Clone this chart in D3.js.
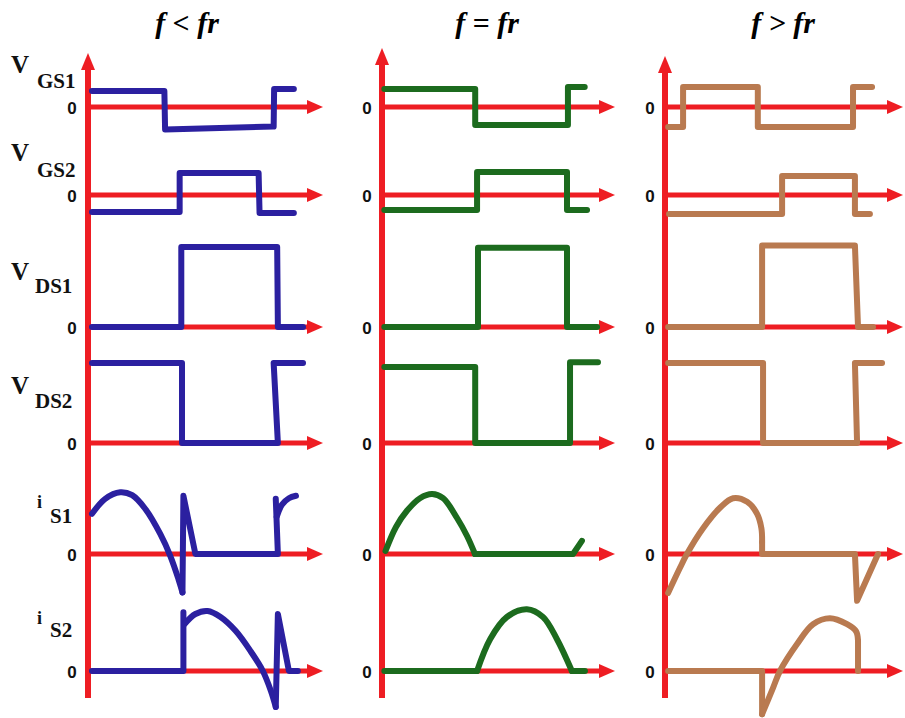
<!DOCTYPE html>
<html>
<head>
<meta charset="utf-8">
<script src="https://cdn.jsdelivr.net/npm/d3@7"></script>
<style>
  html, body { margin: 0; padding: 0; background: #ffffff; }
  svg { display: block; }
</style>
</head>
<body>
<svg id="chart" width="905" height="718"></svg>
<script>
// Column headings: switching frequency relative to resonance
const columnTitles = ["f < fr", "f = fr", "f >\u00a0fr"];

// Row labels: main symbol + subscript
const rowSymbols = ["V", "V", "V", "V", "i", "i"];
const rowSubscripts = ["GS1", "GS2", "DS1", "DS2", "S1", "S2"];
const zeroLabel = "0";

// Waveforms as [time, level] pairs, time in 0..100 of the plotted window,
// level normalised to each row's amplitude. Each array holds the three columns.
const vGS1 = [
  [[1.7, 0.8], [32.5, 0.8], [32.8, -1.12], [79, -0.98], [79.2, 0.9], [87.6, 0.9]],
  [[1, 0.9], [40, 0.9], [40, -0.9], [79.8, -0.9], [79.8, 1.0], [87, 1.0]],
  [[1.3, -1], [7.6, -1], [7.6, 1], [39, 1], [39, -1], [79, -1], [79, 1], [87, 1]]
];
const vGS2 = [
  [[1.7, -0.85], [39, -0.85], [39, 1.1], [72.6, 1.1], [73, -0.9], [87.6, -0.9]],
  [[1, -0.75], [40.8, -0.75], [40.8, 1.15], [79.4, 1.15], [79.4, -0.75], [88, -0.75]],
  [[1.7, -0.95], [49.2, -0.95], [49.2, 0.95], [79.8, 0.95], [79.8, -0.95], [86.1, -0.95]]
];
const vDS1 = [
  [[1.7, 0], [39.7, 0], [39.7, 1], [80.5, 1], [80.8, 0], [91.5, 0]],
  [[1, 0], [41.2, 0], [41.2, 0.99], [79.4, 0.99], [79.4, 0], [92.3, 0]],
  [[1.3, 0], [40.8, 0], [40.8, 1.02], [79.8, 1.02], [81.1, 0], [87.4, 0]]
];
const vDS2 = [
  [[1.7, 1], [40, 1], [40, 0], [80.8, 0], [79, 1], [91.5, 1]],
  [[1, 0.95], [40, 0.95], [40, 0], [80.7, 0], [80.7, 1.01], [92.7, 1.01]],
  [[1.3, 1], [41.2, 1], [41.2, 0], [80.7, 0], [79.8, 1], [91.2, 1]]
];
// Switch currents: each trace is a list of strokes; smooth strokes are flagged
const iS1 = [
  [{ smooth: true, pts: [[1.7, 0.67], [7.3, 0.92], [13.7, 1.03], [18.8, 0.98], [24.4, 0.75],
                         [30.8, 0.33], [35, -0.03], [38.5, -0.42], [40.2, -0.64]] },
   { smooth: false, pts: [[40.2, -0.64], [40.6, 0.97], [45.7, 0], [80.8, 0], [79.9, 0.92]] },
   { smooth: true, pts: [[80.3, 0.62], [82.5, 0.82], [85.5, 0.93], [88.5, 0.97]] }],
  [{ smooth: true, pts: [[1.5, 0.05], [6, 0.45], [10.7, 0.72], [16.3, 0.93], [21.5, 1.0],
                         [26.2, 0.93], [32.2, 0.6], [36.5, 0.3], [39.9, 0]] },
   { smooth: false, pts: [[39.9, 0], [82, 0], [85.8, 0.22]] }],
  [{ smooth: true, pts: [[1.3, -0.65], [6.3, -0.23], [9.2, 0], [16, 0.43], [23.1, 0.77],
                         [28.6, 0.93], [34.5, 0.87], [38.7, 0.67], [40.5, 0.43], [40.8, 0.2]] },
   { smooth: false, pts: [[40.8, 0.2], [40.8, 0], [79.8, 0], [80.7, -0.78], [89.5, 0]] }]
];
const iS2 = [
  [{ smooth: false, pts: [[1.7, 0], [40.6, 0], [40.6, 0.98]] },
   { smooth: true, pts: [[41, 0.78], [45.7, 0.95], [50.9, 1.0], [56.4, 0.9], [62.8, 0.67],
                         [69.2, 0.33], [74.4, 0], [77.8, -0.33], [79.9, -0.6]] },
   { smooth: false, pts: [[79.9, -0.6], [80.8, 0.95], [85.5, 0], [89.3, 0]] }],
  [{ smooth: false, pts: [[1, 0], [40.8, 0]] },
   { smooth: true, pts: [[40.8, 0], [46.4, 0.53], [53.6, 0.9], [62.2, 1.03], [69.1, 0.9],
                         [75.1, 0.53], [81.5, 0]] },
   { smooth: false, pts: [[81.5, 0], [87.1, 0]] }],
  [{ smooth: false, pts: [[1.3, 0], [40.8, 0], [40.8, -0.72]] },
   { smooth: true, pts: [[40.8, -0.72], [45.4, -0.28], [48.3, 0], [55.5, 0.45], [62.2, 0.78],
                         [69.3, 0.88], [76.5, 0.78], [80.3, 0.66], [81.1, 0.5]] },
   { smooth: false, pts: [[81.1, 0.5], [81.1, 0]] }]
];
const voltageSignals = [vGS1, vGS2, vDS1, vDS2];
const currentSignals = [iS1, iS2];

// Layout
const svg = d3.select("#chart");
const axisRed = "#ee1d23";
const traceColors = ["#2b20a0", "#1c6b1e", "#b97a50"];
const colAxisX = [88, 382, 665];
const colTipX = [323, 615, 903];
const colTitleX = [187, 487, 783];
const rowZeroY = [107, 195, 327, 443, 554, 671];
const rowSpan = [20, 20, 80, 80, 60, 60];
const axisTopY = [53, 48, 56];
const axisBottomY = 698;
const zeroLabelX = [72, 367, 650];

// Per-column time scales and per-row level scales
const xScales = colAxisX.map((x0, c) =>
  d3.scaleLinear().domain([0, 100]).range([x0, colTipX[c]]));
const yScales = rowZeroY.map((y0, r) =>
  d3.scaleLinear().domain([-1, 1]).range([y0 + rowSpan[r], y0 - rowSpan[r]]));

// Titles
svg.selectAll("text.title")
  .data(columnTitles)
  .join("text")
  .attr("class", "title")
  .attr("x", (d, i) => colTitleX[i])
  .attr("y", 33)
  .attr("text-anchor", "middle")
  .style("font-family", "'Liberation Serif', 'Times New Roman', serif")
  .style("font-style", "italic")
  .style("font-weight", "bold")
  .style("font-size", "30px")
  .text(d => d);

// Axes for every panel
const axes = svg.append("g");
colAxisX.forEach((x0, c) => {
  const x = xScales[c];
  axes.append("line")
    .attr("x1", x(0)).attr("x2", x(0))
    .attr("y1", axisBottomY).attr("y2", axisTopY[c] + 12)
    .attr("stroke", axisRed).attr("stroke-width", 6);
  axes.append("path")
    .attr("d", `M${x(0)},${axisTopY[c]} L${x(0) - 7},${axisTopY[c] + 17} L${x(0) + 7},${axisTopY[c] + 17} Z`)
    .attr("fill", axisRed);

  rowZeroY.forEach((y0, r) => {
    const y = yScales[r](0);
    axes.append("line")
      .attr("x1", x(0)).attr("x2", x(100) - 12)
      .attr("y1", y).attr("y2", y)
      .attr("stroke", axisRed).attr("stroke-width", 5);
    axes.append("path")
      .attr("d", `M${x(100)},${y} L${x(100) - 16},${y - 7} L${x(100) - 16},${y + 7} Z`)
      .attr("fill", axisRed);
    axes.append("text")
      .attr("x", zeroLabelX[c])
      .attr("y", y + 3)
      .attr("text-anchor", "middle")
      .attr("dominant-baseline", "middle")
      .style("font-family", "'Liberation Sans', Arial, sans-serif")
      .style("font-weight", "bold")
      .style("font-size", "17px")
      .attr("fill", "#111")
      .text(zeroLabel);
  });
});

// Waveform traces
const traces = svg.append("g")
  .attr("fill", "none")
  .attr("stroke-width", 6)
  .attr("stroke-linejoin", "round")
  .attr("stroke-linecap", "round");

voltageSignals.forEach((sig, r) => {
  sig.forEach((pts, c) => {
    const line = d3.line()
      .x(d => xScales[c](d[0]))
      .y(d => yScales[r](d[1]));
    traces.append("path")
      .attr("d", line(pts))
      .attr("stroke", traceColors[c]);
  });
});

currentSignals.forEach((sig, k) => {
  const r = k + 4;
  sig.forEach((strokes, c) => {
    strokes.forEach(s => {
      const line = d3.line()
        .x(d => xScales[c](d[0]))
        .y(d => yScales[r](d[1]))
        .curve(s.smooth ? d3.curveCatmullRom.alpha(0.5) : d3.curveLinear);
      traces.append("path")
        .attr("d", line(s.pts))
        .attr("stroke", traceColors[c]);
    });
  });
});

// Row labels in the first column
const labelBase = [73, 161, 280, 394, 508, 624];
const labelSubDy = [15, 16, 13, 14, 15, 13];
const symbolX = [11, 11, 11, 11, 37, 37];
const subX = [37, 37, 35, 35, 50, 50];
const labels = svg.append("g")
  .style("font-family", "'Liberation Serif', 'Times New Roman', serif")
  .style("font-weight", "bold")
  .attr("fill", "#111");
rowSymbols.forEach((s, r) => {
  labels.append("text")
    .attr("x", symbolX[r])
    .attr("y", labelBase[r])
    .style("font-size", s === "i" ? "18px" : "25px")
    .text(s);
  labels.append("text")
    .attr("x", subX[r])
    .attr("y", labelBase[r] + labelSubDy[r])
    .style("font-size", "21px")
    .text(rowSubscripts[r]);
});
</script>
</body>
</html>
